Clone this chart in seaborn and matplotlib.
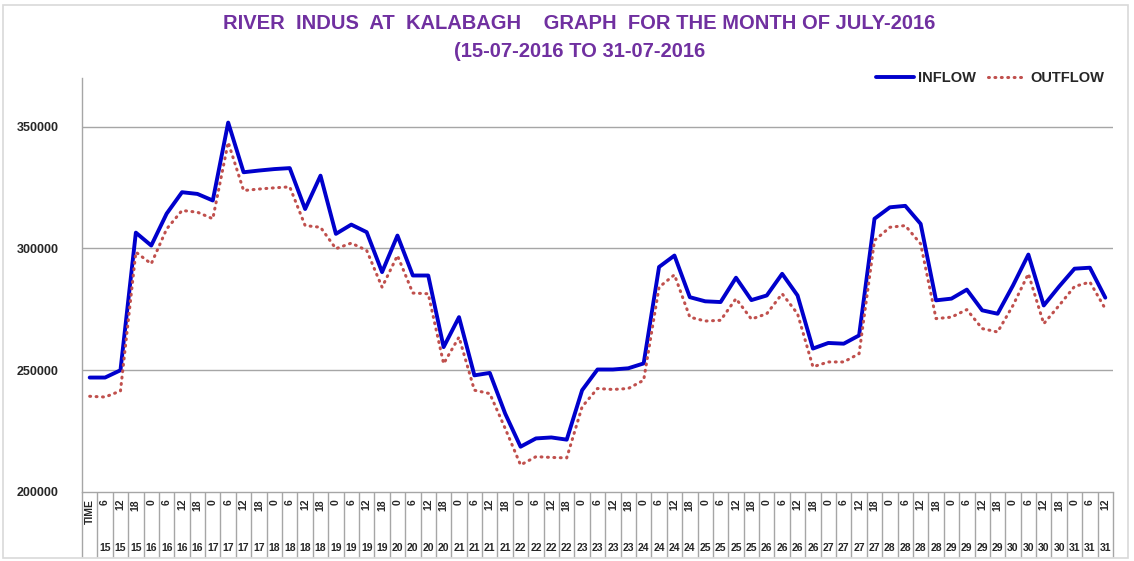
import numpy as np
import pandas as pd
import matplotlib
matplotlib.use("Agg")
import matplotlib.pyplot as plt
import matplotlib.transforms as mtransforms
import seaborn as sns

time_labels = ["TIME"] + ["6", "12", "18"] + ["0", "6", "12", "18"] * 15 + ["0", "6", "12"]
date_labels = [""] + ["15"] * 3 + [str(d) for d in range(16, 31) for _ in range(4)] + ["31"] * 3

inflow = [247000, 247000, 250000, 306500, 301200, 314300, 323100, 322400, 319700, 351700,
          331300, 332000, 332600, 333000, 316200, 329900, 306000, 309800, 306700, 290300,
          305300, 288900, 288900, 259500, 271800, 247900, 248900, 232200, 218600, 222000,
          222400, 221500, 241800, 250300, 250300, 250800, 252800, 292400, 297100, 280000,
          278300, 278000, 288000, 278800, 280700, 289600, 280700, 258900, 261200, 260900,
          264300, 312200, 316900, 317500, 310100, 278700, 279400, 283100, 274600, 273200,
          284800, 297500, 276600, 284400, 291700, 292100, 279800]

outflow = [239300, 239000, 241500, 298500, 293700, 308000, 315600, 314900, 312200, 343600,
           323800, 324400, 324900, 325300, 309400, 308700, 299900, 302200, 299200, 284100,
           297100, 281700, 281400, 252700, 263600, 241800, 240400, 226100, 211100, 214500,
           214200, 214000, 235000, 242500, 242100, 242500, 245900, 284100, 289200, 271800,
           270200, 270500, 279400, 271000, 273200, 281400, 273200, 251400, 253400, 253400,
           256800, 303300, 308700, 309400, 301900, 271200, 271800, 274900, 267100, 265700,
           276600, 289600, 269100, 276600, 284400, 286200, 275200]

y_ticks = [200000, 250000, 300000, 350000]

sns.set_theme(style="white")
plt.rcParams["font.family"] = ["Liberation Sans", "DejaVu Sans"]

n = len(time_labels)
df = pd.DataFrame({"pos": np.arange(n), "INFLOW": inflow, "OUTFLOW": outflow})

fig = plt.figure(figsize=(11.34, 5.61), dpi=100)
ax = fig.add_axes([82 / 1134, 1 - 492 / 561, (1113 - 82) / 1134, (492 - 78) / 561])

# chart border
fig.patches.append(plt.Rectangle((3 / 1134, 3 / 561), 1125 / 1134, 553 / 561,
                                 transform=fig.transFigure, fill=False,
                                 edgecolor="#D9D9D9", linewidth=1.2))

for yv in y_ticks[1:]:
    ax.axhline(yv, color="#A6A6A6", linewidth=1.0, zorder=0)

sns.lineplot(data=df, x="pos", y="INFLOW", ax=ax, color="#0000CC", linewidth=2.8,
             label="INFLOW", solid_joinstyle="round", solid_capstyle="round")
sns.lineplot(data=df, x="pos", y="OUTFLOW", ax=ax, color="#C0504D", linewidth=2.2,
             label="OUTFLOW", linestyle=(0, (0.3, 1.8)), dash_capstyle="round")

ax.set_xlim(-0.5, n - 0.5)
ax.set_ylim(200000, 370000)
ax.set_yticks(y_ticks)
ax.set_yticklabels([str(v) for v in y_ticks], fontsize=9, fontweight="bold")
ax.tick_params(axis="y", length=0, pad=17)
ax.set_xlabel("")
ax.set_ylabel("")

ax.set_xticks(np.arange(n))
ax.set_xticklabels(time_labels, rotation=90, fontsize=7.5, fontweight="bold", va="top")
ax.tick_params(axis="x", which="major", bottom=True, length=0, pad=5)
ax.set_xticks(np.arange(-0.5, n, 1), minor=True)
ax.tick_params(axis="x", which="minor", bottom=True, length=47, color="#A6A6A6",
               width=1.0, direction="out")

trans = mtransforms.blended_transform_factory(ax.transData, ax.transAxes)
for i, d in enumerate(date_labels):
    if d:
        ax.text(i, -0.135, d, transform=trans, ha="center", va="center",
                fontsize=7.5, fontweight="bold")

for side in ["top", "right"]:
    ax.spines[side].set_visible(False)
for side in ["left", "bottom"]:
    ax.spines[side].set_color("#A6A6A6")
    ax.spines[side].set_linewidth(1.0)

leg = ax.legend(loc="center right", bbox_to_anchor=(0.997, 1.0), ncol=2, frameon=False,
                prop={"weight": "bold", "size": 10.5}, handlelength=2.6, columnspacing=0.8,
                handletextpad=0.3, borderaxespad=0.0)

fig.text(0.511, 0.958, "RIVER  INDUS  AT  KALABAGH    GRAPH  FOR THE MONTH OF JULY-2016",
         ha="center", va="center", fontsize=14.5, fontweight="bold", color="#7030A0")
fig.text(0.511, 0.908, "(15-07-2016 TO 31-07-2016",
         ha="center", va="center", fontsize=14.5, fontweight="bold", color="#7030A0")

fig.savefig("out.png", dpi=100)
